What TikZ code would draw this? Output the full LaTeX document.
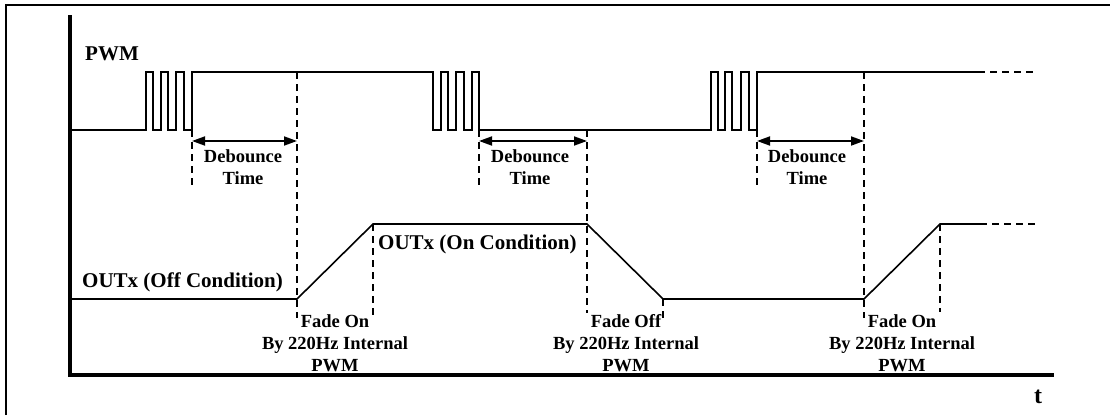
\documentclass[tikz,border=0pt]{standalone}
\usepackage{fontspec}
\setmainfont{Liberation Serif}
\usetikzlibrary{arrows.meta}
\begin{document}
\begin{tikzpicture}[x=1pt,y=-1pt,
  sig/.style={line width=1.6pt, line join=miter},
  guide/.style={line width=1.5pt, dash pattern=on 7pt off 5pt},
  axisline/.style={line width=3.4pt},
  framel/.style={line width=1.4pt},
  dbl/.style={line width=1.8pt, {Triangle[length=13pt,width=9pt]}-{Triangle[length=13pt,width=9pt]}},
  biglbl/.style={font=\bfseries\fontsize{21}{24}\selectfont, inner sep=0pt, anchor=base},
  smlbl/.style={font=\bfseries\fontsize{18.5}{22}\selectfont, inner sep=0pt, anchor=base},
]
\useasboundingbox (0,0) rectangle (1110,415);
% frame
\draw[framel] (6,415) -- (6,5) -- (1110,5);
% axes
\coordinate (ytop) at (70,15);
\coordinate (orig) at (70,375);
\coordinate (xend) at (1054,375);
\draw[axisline] (ytop) -- (orig) -- (xend);
\node[biglbl,font=\bfseries\fontsize{24}{26}\selectfont] (tlab) at (1038,403) {t};
% PWM waveform
\draw[sig] (70,130) -- (146,130) -- (146,72) -- (153,72) -- (153,130) -- (161,130) -- (161,72) -- (168,72) -- (168,130)
  -- (176,130) -- (176,72) -- (184,72) -- (184,130) -- (192,130) -- (192,72) -- (433,72) -- (433,130) -- (441,130)
  -- (441,72) -- (448,72) -- (448,130) -- (456,130) -- (456,72) -- (464,72) -- (464,130) -- (472,130) -- (472,72)
  -- (479,72) -- (479,130) -- (711,130) -- (711,72) -- (718,72) -- (718,130) -- (725,130) -- (725,72) -- (732,72)
  -- (732,130) -- (741,130) -- (741,72) -- (749,72) -- (749,130) -- (757,130) -- (757,72) -- (978,72);
\draw[guide] (978,72) -- (1036,72);
% OUTx waveform
\draw[sig] (70,299) -- (297,299) -- (373,224) -- (587,224) -- (663,299) -- (864,299) -- (940,224) -- (980,224);
\draw[guide] (980,224) -- (1037,224);
% guides
\draw[guide] (192,130) -- (192,186);
\draw[guide] (297,72) -- (297,318);
\draw[guide] (373,224) -- (373,315);
\draw[guide] (479,130) -- (479,187);
\draw[guide] (587,130) -- (587,313);
\draw[guide] (663,299) -- (663,318);
\draw[guide] (757,130) -- (757,187);
\draw[guide] (864,72) -- (864,318);
\draw[guide] (940,224) -- (940,312);
% debounce arrows
\coordinate (a1) at (192,141); \coordinate (b1) at (297,141);
\coordinate (a2) at (479,141); \coordinate (b2) at (587,141);
\coordinate (a3) at (757,141); \coordinate (b3) at (864,141);
\draw[dbl] (a1) -- (b1);
\draw[dbl] (a2) -- (b2);
\draw[dbl] (a3) -- (b3);
\node[smlbl] (db1) at (243,162.5) {Debounce};
\node[smlbl] (tm1) at (243,184) {Time};
\node[smlbl] (db2) at (530,162.5) {Debounce};
\node[smlbl] (tm2) at (530,184) {Time};
\node[smlbl] (db3) at (807,162.5) {Debounce};
\node[smlbl] (tm3) at (807,184) {Time};
% labels
\node[biglbl] (pwm) at (112,60) {PWM};
\node[biglbl,anchor=base west] (offc) at (82,287) {OUTx (Off Condition)};
\node[biglbl,anchor=base west] (onc) at (378,249) {OUTx (On Condition)};
% fade labels
\node[smlbl] (f1a) at (335,327) {Fade On};
\node[smlbl] (f1b) at (335,349) {By 220Hz Internal};
\node[smlbl] (f1c) at (335,371) {PWM};
\node[smlbl] (f2a) at (626,327) {Fade Off};
\node[smlbl] (f2b) at (626,349) {By 220Hz Internal};
\node[smlbl] (f2c) at (626,371) {PWM};
\node[smlbl] (f3a) at (902,327) {Fade On};
\node[smlbl] (f3b) at (902,349) {By 220Hz Internal};
\node[smlbl] (f3c) at (902,371) {PWM};
\end{tikzpicture}
\end{document}
